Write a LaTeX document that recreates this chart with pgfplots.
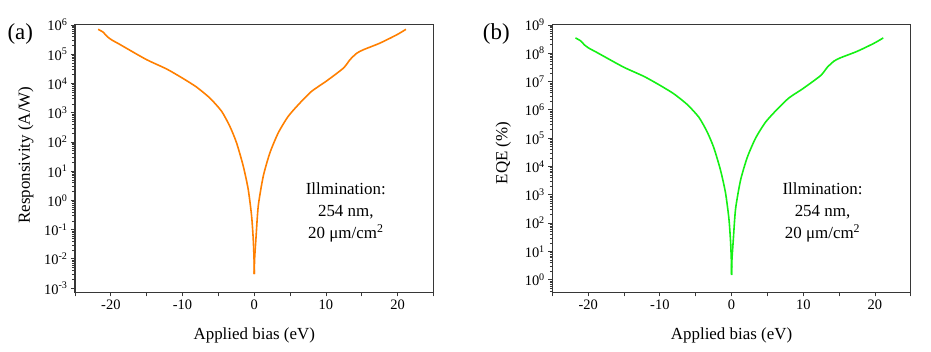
\documentclass[border=0pt]{standalone}
\usepackage{pgfplots}
\pgfplotsset{compat=1.18}
\usepackage{fontspec}
\setmainfont{Liberation Serif}
\definecolor{curveA}{RGB}{255,127,0}
\definecolor{curveB}{RGB}{20,240,20}
\definecolor{axgray}{RGB}{55,55,55}

\pgfplotstableread{
x y
-21.77 7.08e5
-21.07 5.62e5
-20.5 3.98e5
-19.9 3.09e5
-18.8 2.19e5
-17.8 1.58e5
-15.0 6.46e4
-12.2 3.09e4
-10.0 1.51e4
-8.05 7.50e3
-6.19 3.16e3
-4.56 1.12e3
-3.4 339
-2.47 93.3
-1.53 14.8
-0.84 2.37
-0.37 0.295
-0.14 0.0468
-0.03 0.01
0 0.003
}\respL
\pgfplotstableread{
x y
0 0.003
0.05 0.01
0.23 0.0468
0.56 0.646
1.26 6.76
2.19 42.7
3.35 204
4.74 750
6.37 2140
8.0 5370
10.0 1.17e4
12.42 3.31e4
13.35 6.46e4
14.28 1.07e5
15.2 1.41e5
17.5 2.37e5
19.86 4.57e5
21.16 7.08e5
}\respR

\pgfplotstableread{
x y
-21.77 3.47e8
-21.07 2.75e8
-20.5 1.95e8
-19.9 1.51e8
-18.8 1.07e8
-17.8 7.74e7
-15.0 3.17e7
-12.2 1.51e7
-10.0 7.40e6
-8.05 3.68e6
-6.19 1.55e6
-4.56 5.49e5
-3.4 1.66e5
-2.47 4.57e4
-1.53 7250
-0.84 1161
-0.37 145
-0.14 22.9
-0.03 4.9
0 1.47
}\eqeL
\pgfplotstableread{
x y
0 1.47
0.05 4.9
0.23 22.9
0.56 317
1.26 3312
2.19 2.09e4
3.35 1.00e5
4.74 3.68e5
6.37 1.05e6
8.0 2.63e6
10.0 5.73e6
12.42 1.62e7
13.35 3.17e7
14.28 5.24e7
15.2 6.91e7
17.5 1.16e8
19.86 2.24e8
21.16 3.47e8
}\eqeR

\pgfplotsset{
  panel/.style={
    scale only axis,
    width=358.5bp, height=268bp,
    anchor=south west,
    xmin=-25, xmax=25,
    xtick={-25,-20,...,25},
    xticklabels={,-20,,-10,,0,,10,,20,},
    log basis y=10,
    tick align=outside,
    xtick pos=bottom, ytick pos=left,
    major tick length=4bp, minor tick length=2.5bp,
    axis line style={axgray, line width=1.1pt},
    every tick/.style={axgray, line width=0.8pt},
    every minor tick/.style={axgray, line width=0.6pt},
    tick label style={font=\fontsize{14.5}{16}\selectfont},
    /pgf/number format/assume math mode=true,
    yticklabel={\pgfmathtruncatemacro{\e}{round(\tick)}10\textsuperscript{\e}},
    label style={font=\fontsize{17}{20}\selectfont},
    xlabel={Applied bias (eV)},
    xlabel style={at={(axis description cs:0.5,-0.160)}, anchor=center},
  },
}

\begin{document}
\begin{tikzpicture}
\useasboundingbox (0,0) rectangle (931bp,352bp);

\begin{axis}[panel, at={(75bp,59.7bp)},
  ymode=log, ymin=7.2e-4, ymax=1.05e6,
  ytick={1e-3,1e-2,1e-1,1,10,100,1e3,1e4,1e5,1e6},
  minor ytick={2e-3,3e-3,4e-3,5e-3,6e-3,7e-3,8e-3,9e-3,
    2e-2,3e-2,4e-2,5e-2,6e-2,7e-2,8e-2,9e-2,
    2e-1,3e-1,4e-1,5e-1,6e-1,7e-1,8e-1,9e-1,
    2,3,4,5,6,7,8,9,20,30,40,50,60,70,80,90,
    200,300,400,500,600,700,800,900,
    2e3,3e3,4e3,5e3,6e3,7e3,8e3,9e3,
    2e4,3e4,4e4,5e4,6e4,7e4,8e4,9e4,
    2e5,3e5,4e5,5e5,6e5,7e5,8e5,9e5},
  ylabel={Responsivity (A/W)},
  ylabel style={at={(axis description cs:-0.1375,0.512)}, anchor=center},
]
\addplot[curveA, line width=1.6pt, smooth, tension=0.4] table[x=x,y=y] {\respL};
\addplot[curveA, line width=1.6pt, smooth, tension=0.4] table[x=x,y=y] {\respR};
\end{axis}

\begin{axis}[panel, at={(552.3bp,59.7bp)},
  ymode=log, ymin=0.36, ymax=1.05e9,
  ytick={1,10,100,1e3,1e4,1e5,1e6,1e7,1e8,1e9},
  minor ytick={0.4,0.5,0.6,0.7,0.8,0.9,
    2,3,4,5,6,7,8,9,20,30,40,50,60,70,80,90,
    200,300,400,500,600,700,800,900,
    2e3,3e3,4e3,5e3,6e3,7e3,8e3,9e3,
    2e4,3e4,4e4,5e4,6e4,7e4,8e4,9e4,
    2e5,3e5,4e5,5e5,6e5,7e5,8e5,9e5,
    2e6,3e6,4e6,5e6,6e6,7e6,8e6,9e6,
    2e7,3e7,4e7,5e7,6e7,7e7,8e7,9e7,
    2e8,3e8,4e8,5e8,6e8,7e8,8e8,9e8},
  ylabel={EQE (\%)},
  ylabel style={at={(axis description cs:-0.1367,0.52)}, anchor=center},
]
\addplot[curveB, line width=1.6pt, smooth, tension=0.4] table[x=x,y=y] {\eqeL};
\addplot[curveB, line width=1.6pt, smooth, tension=0.4] table[x=x,y=y] {\eqeR};
\end{axis}

\node[font=\fontsize{23}{26}\selectfont] at (20.3bp,318bp) {(a)};
\node[font=\fontsize{23}{26}\selectfont] at (496.3bp,318bp) {(b)};

\node[font=\fontsize{17}{22.5}\selectfont, align=center] at (345.8bp,139.5bp)
  {Illmination:\\254 nm,\\20 μm/cm\textsuperscript{2}};
\node[font=\fontsize{17}{22.5}\selectfont, align=center] at (822.5bp,139.5bp)
  {Illmination:\\254 nm,\\20 μm/cm\textsuperscript{2}};
\end{tikzpicture}
\end{document}
